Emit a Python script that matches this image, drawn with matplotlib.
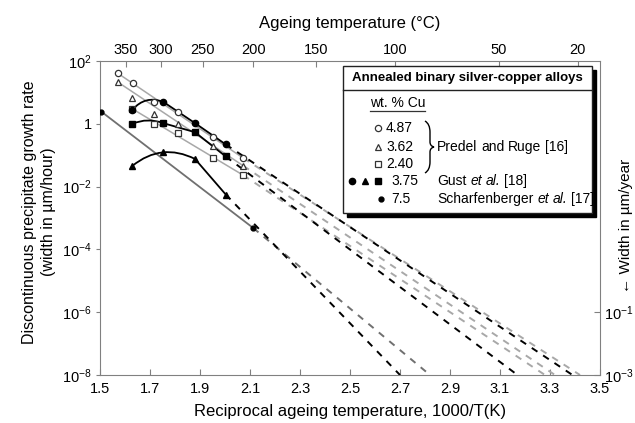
import numpy as np
import matplotlib
matplotlib.use("Agg")
import matplotlib.pyplot as plt
from matplotlib.patches import Rectangle, FancyArrowPatch, PathPatch
from matplotlib.path import Path
from matplotlib.lines import Line2D

plt.rcParams['font.family'] = ['Liberation Sans', 'DejaVu Sans']
plt.rcParams['mathtext.fontset'] = 'custom'
plt.rcParams['mathtext.rm'] = 'Liberation Sans'
plt.rcParams['mathtext.it'] = 'Liberation Sans:italic'

# data: x = 1000/T(K), y = growth rate in um/hour
# Predel and Ruge [16], open symbols
pr487_x = [1.571, 1.633, 1.717, 1.811, 1.951, 2.073]
pr487_y = [40.7, 19.9, 5.1, 2.3, 0.39, 0.081]
pr362_x = [1.571, 1.629, 1.716, 1.813, 1.953, 2.073]
pr362_y = [21.4, 6.8, 2.1, 1.0, 0.19, 0.046]
pr240_x = [1.629, 1.716, 1.813, 1.953, 2.073]
pr240_y = [3.0, 0.95, 0.50, 0.081, 0.023]

# Gust et al. [18], 3.75 wt.% Cu, filled symbols
gust_x = [1.630, 1.753, 1.880, 2.003]
gust_circ_y = [2.8, 5.0, 1.05, 0.22]
gust_sq_y = [1.0, 1.05, 0.54, 0.091]
gust_tri_y = [0.046, 0.123, 0.076, 0.0056]

# Scharfenberger et al. [17], 7.5 wt.% Cu
sch_x = [1.505, 2.113]
sch_y = [2.45, 4.8e-4]

# where the dashed extrapolations reach 1e-8
ext_y = 1e-8
ext_x = {'pr487': 3.42, 'pr362': 3.32, 'pr240': 3.28,
         'gcirc': 3.39, 'gsq': 3.17, 'gtri': 2.70, 'sch': 2.82}

top_temps = [350, 300, 250, 200, 150, 100, 50, 20]
left_ticks = [1e2, 1, 1e-2, 1e-4, 1e-6, 1e-8]
left_labels = [r'$10^{2}$', '1', r'$10^{-2}$', r'$10^{-4}$', r'$10^{-6}$', r'$10^{-8}$']
right_ticks = [1e-1, 1e-3]
right_labels = [r'$10^{-1}$', r'$10^{-3}$']

W, H = 635, 423
fig = plt.figure(figsize=(W / 100, H / 100), dpi=100)


def fx(px):
    return px / W


def fy(py):
    return 1 - py / H


ax = fig.add_axes([fx(100), fy(375), 500 / W, 314 / H])
ax.set_yscale('log')
ax.set_xlim(1.5, 3.5)
ax.set_ylim(1e-8, 1e2)

gray = '#a8a8a8'
dgray = '#707070'
dash = (0, (3.5, 3.5))
ms = 4.5

# Predel and Ruge lines + extrapolations
for xs, ys, key, mk in [(pr487_x, pr487_y, 'pr487', 'o'),
                        (pr362_x, pr362_y, 'pr362', '^'),
                        (pr240_x, pr240_y, 'pr240', 's')]:
    ax.plot([xs[0], xs[-1]], [ys[0], ys[-1]], color=gray, lw=1.1, zorder=2)
    ax.plot([xs[-1], ext_x[key]], [ys[-1], ext_y], color=gray, lw=1.4,
            ls=dash, zorder=2)
    ax.plot(xs, ys, ls='none', marker=mk, ms=ms, mfc='white', mec='#333333',
            mew=0.9, zorder=4)

# Scharfenberger
ax.plot(sch_x, sch_y, color=dgray, lw=1.3, zorder=2)
ax.plot([sch_x[-1], ext_x['sch']], [sch_y[-1], ext_y], color=dgray, lw=1.4,
        ls=dash, zorder=2)
ax.plot(sch_x, sch_y, ls='none', marker='o', ms=3.5, color='black', zorder=4)


# Gust: curved start, straight run, dashed extrapolation
def arc(x0, y0, x1, y1, rad):
    p = FancyArrowPatch((x0, y0), (x1, y1), arrowstyle='-',
                        connectionstyle='arc3,rad=%g' % rad, shrinkA=0,
                        shrinkB=0, color='black', lw=1.3, zorder=3)
    ax.add_patch(p)


arc(gust_x[0], gust_circ_y[0], gust_x[1], gust_circ_y[1], -0.35)
ax.plot(gust_x[1:], gust_circ_y[1:], color='black', lw=1.3, zorder=3)
ax.plot([gust_x[-1], ext_x['gcirc']], [gust_circ_y[-1], ext_y],
        color='black', lw=1.4, ls=dash, zorder=3)

arc(gust_x[0], gust_sq_y[0], gust_x[1], gust_sq_y[1], -0.2)
ax.plot(gust_x[1:], gust_sq_y[1:], color='black', lw=1.3, zorder=3)
ax.plot([gust_x[-1], ext_x['gsq']], [gust_sq_y[-1], ext_y],
        color='black', lw=1.4, ls=dash, zorder=3)

arc(gust_x[0], gust_tri_y[0], gust_x[2], gust_tri_y[2], -0.32)
ax.plot(gust_x[2:], gust_tri_y[2:], color='black', lw=1.3, zorder=3)
ax.plot([gust_x[-1], ext_x['gtri']], [gust_tri_y[-1], ext_y],
        color='black', lw=1.4, ls=dash, zorder=3)

for ys, mk in [(gust_circ_y, 'o'), (gust_sq_y, 's'), (gust_tri_y, '^')]:
    ax.plot(gust_x, ys, ls='none', marker=mk, ms=ms, color='black', zorder=5)

# axes styling
spine_c = '#808080'
for s in ax.spines.values():
    s.set_color(spine_c)
ax.set_xticks(np.arange(1.5, 3.51, 0.2))
ax.set_xticklabels(['%.1f' % v for v in np.arange(1.5, 3.51, 0.2)])
ax.set_yticks(left_ticks)
ax.set_yticklabels(left_labels)
ax.minorticks_off()
ax.tick_params(axis='x', direction='in', length=4, color=spine_c,
               labelsize=10.5, pad=5)
ax.tick_params(axis='y', direction='out', length=3, color=spine_c,
               labelsize=10.5, pad=3)
ax.set_xlabel('Reciprocal ageing temperature, 1000/T(K)', fontsize=12,
              labelpad=6)

top = ax.twiny()
top.set_xlim(ax.get_xlim())
top.set_xticks([1000 / (t + 273.15) for t in top_temps])
top.set_xticklabels([str(t) for t in top_temps])
top.tick_params(direction='in', length=4, color=spine_c, labelsize=10.5, pad=3)
top.set_xlabel('Ageing temperature (°C)', fontsize=12, labelpad=11)
for s in top.spines.values():
    s.set_visible(False)

right = ax.twinx()
right.set_yscale('log')
right.set_ylim(1e-3, 1e7)
right.set_yticks(right_ticks)
right.set_yticklabels(right_labels)
right.minorticks_off()
right.tick_params(direction='in', length=4, color=spine_c, labelsize=10.5, pad=3)
for s in right.spines.values():
    s.set_visible(False)

fig.text(fx(39), fy(212), 'Discontinuous precipitate growth rate\n(width in µm/hour)',
         rotation=90, ha='center', va='center', fontsize=11.5,
         multialignment='center', linespacing=1.4)
fig.text(fx(626), fy(226), '← Width in µm/year', rotation=90, ha='center',
         va='center', fontsize=11)

# legend box with shadow
fig.add_artist(Rectangle((fx(347), fy(217)), (596 - 347) / W, (217 - 70) / H,
                         transform=fig.transFigure, facecolor='black',
                         edgecolor='black', zorder=10))
fig.add_artist(Rectangle((fx(343), fy(213)), (592 - 343) / W, (213 - 66) / H,
                         transform=fig.transFigure, facecolor='white',
                         edgecolor='#222222', lw=1.0, zorder=11))
fig.add_artist(Line2D([fx(343), fx(592)], [fy(90.5), fy(90.5)],
                      transform=fig.transFigure, color='#222222', lw=1.0,
                      zorder=12))
fig.text(fx(467.5), fy(78), 'Annealed binary silver-copper alloys',
         ha='center', va='center', fontsize=9.5, fontweight='bold', zorder=12)
fig.text(fx(370), fy(103), 'wt. % Cu', ha='left', va='center', fontsize=10,
         zorder=12)
fig.add_artist(Line2D([fx(370), fx(425)], [fy(111), fy(111)],
                      transform=fig.transFigure, color='#333333', lw=0.9,
                      zorder=12))

rows = [128, 147, 164, 181, 199]
for mk, yy in zip(['o', '^', 's'], rows[:3]):
    fig.add_artist(Line2D([fx(378)], [fy(yy)], marker=mk, ms=ms, mfc='white',
                          mec='#333333', mew=0.9, transform=fig.transFigure,
                          zorder=12))
for mk, xx in zip(['o', '^', 's'], [352, 365, 378]):
    fig.add_artist(Line2D([fx(xx)], [fy(rows[3])], marker=mk, ms=ms,
                          color='black', transform=fig.transFigure, zorder=12))
fig.add_artist(Line2D([fx(381)], [fy(rows[4])], marker='o', ms=3.5,
                      color='black', transform=fig.transFigure, zorder=12))

wt_labels = ['4.87', '3.62', '2.40', '3.75', '7.5']
wt_x = [386, 386, 386, 391, 391]
for lab, xx, yy in zip(wt_labels, wt_x, rows):
    fig.text(fx(xx), fy(yy), lab, ha='left', va='center', fontsize=10,
             zorder=12)

# thin curly brace
bx = [425, 430, 430, 430, 430, 434, 430, 430, 430, 430, 425]
by = [121, 124, 132, 142, 146, 147, 148, 152, 162, 170, 173]
codes = [Path.MOVETO, Path.CURVE3, Path.CURVE3, Path.LINETO, Path.CURVE3,
         Path.CURVE3, Path.CURVE3, Path.CURVE3, Path.LINETO, Path.CURVE3,
         Path.CURVE3]
brace = Path([(fx(a), fy(b)) for a, b in zip(bx, by)], codes)
fig.add_artist(PathPatch(brace, transform=fig.transFigure, fill=False,
                         edgecolor='black', lw=1.0, zorder=12))

renderer = fig.canvas.get_renderer()


def text_runs(px, py, parts, size=10):
    x = px
    for s, style in parts:
        if s == ' ':
            x += 0.278 * size * 100 / 72
            continue
        t = fig.text(fx(x), fy(py), s, ha='left', va='center', fontsize=size,
                     fontstyle=style, zorder=12)
        x += t.get_window_extent(renderer).width


text_runs(437, 147, [('Predel', 'normal'), (' ', ''), ('and', 'normal'),
                     (' ', ''), ('Ruge', 'normal'), (' ', ''), ('[16]', 'normal')])
text_runs(437, 181, [('Gust', 'normal'), (' ', ''), ('et', 'italic'),
                     (' ', ''), ('al.', 'italic'), (' ', ''), ('[18]', 'normal')])
text_runs(437, 199, [('Scharfenberger', 'normal'), (' ', ''), ('et', 'italic'),
                     (' ', ''), ('al.', 'italic'), (' ', ''), ('[17]', 'normal')])

fig.savefig('out.png', dpi=100)
